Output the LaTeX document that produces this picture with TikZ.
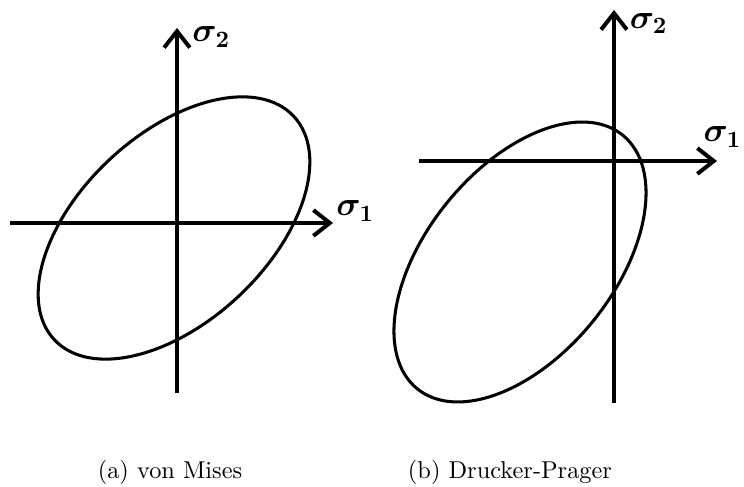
\documentclass[tikz,border=0pt]{standalone}
\usepackage{amsmath}
\usepackage{amssymb}
\usepackage{bm}
\usetikzlibrary{arrows.meta,positioning}

\begin{document}
\begin{tikzpicture}[
  axis/.style={line width=1.7pt,-{Straight Barb[length=7pt,width=11pt]}},
  yieldcurve/.style={line width=1.3pt},
  axlabel/.style={font=\Large,inner sep=0pt,anchor=west},
  caption/.style={font=\fontsize{10.4}{12}\selectfont}
]
\useasboundingbox (0,0) rectangle (11.16,7.305);

% (a) von Mises
\coordinate (a-s2low) at (2.655,1.41);
\coordinate (a-s2top) at (2.655,6.885);
\coordinate (a-s1low) at (0.15,3.96);
\coordinate (a-s1top) at (4.995,3.96);
\draw[axis] (a-s2low) -- (a-s2top);
\draw[axis] (a-s1low) -- (a-s1top);
\node[axlabel] (a-lab2) at (2.88,6.75) {$\bm{\sigma}_{\mathbf{2}}$};
\node[axlabel] (a-lab1) at (5.04,4.14) {$\bm{\sigma}_{\mathbf{1}}$};
\draw[yieldcurve,rotate around={43:(2.61,3.885)}] (2.61,3.885) ellipse (2.456cm and 1.41cm);
\node[caption] (a-cap) at (2.55,0.225) {(a) von Mises};

% (b) Drucker-Prager
\coordinate (b-s2low) at (9.21,1.26);
\coordinate (b-s2top) at (9.21,7.155);
\coordinate (b-s1low) at (6.285,4.89);
\coordinate (b-s1top) at (10.755,4.89);
\draw[axis] (b-s2low) -- (b-s2top);
\draw[axis] (b-s1low) -- (b-s1top);
\node[axlabel] (b-lab2) at (9.44,6.95) {$\bm{\sigma}_{\mathbf{2}}$};
\node[axlabel,anchor=east] (b-lab1) at (11.13,5.25) {$\bm{\sigma}_{\mathbf{1}}$};
\draw[yieldcurve,rotate around={51:(7.8,3.375)}] (7.8,3.375) ellipse (2.448cm and 1.41cm);
\node[caption] (b-cap) at (7.65,0.225) {(b) Drucker-Prager};
\end{tikzpicture}
\end{document}
